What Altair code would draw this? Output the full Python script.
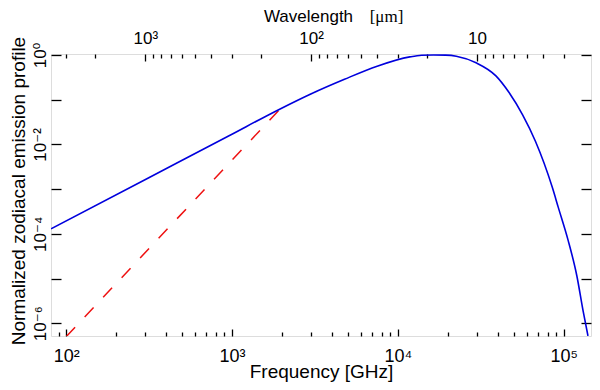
import altair as alt
import pandas as pd

# ---- data ----
freq_blue = [81, 317, 953, 1950, 2985, 4765, 7500, 11800, 13900, 16400, 19400,
             22500, 29600, 39000, 46700, 56500, 67600, 85400, 92700, 106000,
             120000, 131000, 140000]
prof_blue = [1.29e-4, 1.82e-3, 0.0154, 0.062, 0.134, 0.286, 0.56, 0.904,
             0.985, 1.0, 0.99, 0.936, 0.667, 0.34, 0.146, 0.0456, 0.0116,
             1.08e-3, 3.9e-4, 7.4e-5, 1.14e-5, 1.84e-6, 5.2e-7]

freq_red = [1950, 100]
prof_red = [0.062, 5.0e-7]

x_major = [100, 1000, 10000, 100000]
x_major_labels = ["10²", "10³", "10⁴", "10⁵"]
x_minor = [m * 10 ** k for k in range(1, 5) for m in range(2, 10)]

wl_major = [1000, 100, 10]
wl_major_labels = ["10³", "10²", "10"]
wl_minor = [m * 10 ** k for k in range(0, 4) for m in range(2, 10)]

y_major = [1e-6, 1e-5, 1e-4, 1e-3, 1e-2, 1e-1, 1.0]
y_major_labels = ["10⁻⁶", "", "10⁻⁴", "", "10⁻²", "", "10⁰"]

C_LIGHT = 299792.458  # GHz * micron

x_domain = [81, 146000]
y_domain = [5.18e-7, 1.05]

FONT = "Liberation Sans, DejaVu Sans"


def label_expr(values, labels):
    expr = "''"
    for v, lab in reversed(list(zip(values, labels))):
        expr = f"abs(datum.value/{v} - 1) < 0.001 ? '{lab}' : ({expr})"
    return expr


df_blue = pd.DataFrame({"freq": freq_blue, "prof": prof_blue})
df_red = pd.DataFrame({"freq": freq_red, "prof": prof_red})

xs = alt.Scale(type="log", domain=x_domain, nice=False)
ys = alt.Scale(type="log", domain=y_domain, nice=False)

tick_common = dict(domain=False, grid=False, tickColor="black", tickWidth=1.3)

ax_bottom = alt.Axis(
    orient="bottom", values=x_major, labelExpr=label_expr(x_major, x_major_labels),
    offset=-7, tickSize=7, labelPadding=25, labelBaseline="alphabetic",
    labelFont=FONT, labelFontSize=18, labelColor="black", labelOverlap=False,
    labelFlush=False, title="Frequency [GHz]", titleFont=FONT, titleFontSize=19,
    titleFontWeight="normal", titleColor="black", titleX=270, titleY=48.5,
    titleAlign="center", titleBaseline="alphabetic", **tick_common)

ax_bottom_minor = alt.Axis(
    orient="bottom", values=x_minor, offset=-4, tickSize=4, labels=False,
    title=None, **tick_common)

top_vals = [C_LIGHT / w for w in wl_major]
ax_top = alt.Axis(
    orient="top", values=top_vals, labelExpr=label_expr(top_vals, wl_major_labels),
    offset=-7, tickSize=7, labelPadding=11, labelBaseline="alphabetic",
    labelFont=FONT, labelFontSize=17, labelColor="black", labelOverlap=False,
    labelFlush=False, title="Wavelength", titleFont=FONT, titleFontSize=17,
    titleFontWeight="normal", titleColor="black", titleX=257, titleY=-40,
    titleAlign="center", titleBaseline="alphabetic", **tick_common)

ax_top_minor = alt.Axis(
    orient="top", values=[C_LIGHT / w for w in wl_minor], offset=-4, tickSize=4,
    labels=False, title="[μm]", titleFont="Liberation Serif", titleFontSize=17,
    titleFontWeight="normal", titleColor="black", titleX=335, titleY=-37,
    titleAlign="center", titleBaseline="alphabetic", **tick_common)

ax_left = alt.Axis(
    orient="left", values=y_major, labelExpr=label_expr(y_major, y_major_labels),
    offset=-10, tickSize=10, labelPadding=6, labelAngle=270, labelAlign="center",
    labelBaseline="alphabetic", labelFont=FONT, labelFontSize=17,
    labelColor="black", labelOverlap=False, labelFlush=False,
    title="Normalized zodiacal emission profile", titleFont=FONT,
    titleFontSize=19, titleFontWeight="normal", titleColor="black",
    titleAngle=270, titleX=-36.5, titleY=136.5, titleAlign="center",
    titleBaseline="alphabetic", **tick_common)

ax_right = alt.Axis(
    orient="right", values=y_major, offset=-10, tickSize=10, labels=False,
    title=None, **tick_common)

blue = alt.Chart(df_blue).mark_line(color="#0000dd", strokeWidth=1.6, clip=True,
                                    interpolate="monotone").encode(
    x=alt.X("freq:Q", scale=xs, axis=ax_bottom),
    y=alt.Y("prof:Q", scale=ys, axis=ax_left),
)

red = alt.Chart(df_red).mark_line(color="#ee1111", strokeWidth=1.5,
                                  strokeDash=[13, 14], clip=True).encode(
    x=alt.X("freq:Q", scale=xs, axis=ax_top),
    y=alt.Y("prof:Q", scale=ys, axis=ax_right),
)

ghost1 = alt.Chart(df_blue).mark_line(strokeOpacity=0, clip=True).encode(
    x=alt.X("freq:Q", scale=xs, axis=ax_bottom_minor),
    y=alt.Y("prof:Q", scale=ys, axis=None),
)

ghost2 = alt.Chart(df_blue).mark_line(strokeOpacity=0, clip=True).encode(
    x=alt.X("freq:Q", scale=xs, axis=ax_top_minor),
    y=alt.Y("prof:Q", scale=ys, axis=None),
)

chart = (
    alt.layer(ghost1, ghost2, red, blue)
    .resolve_axis(x="independent", y="independent")
    .properties(
        width=540, height=282,
        padding={"left": 43, "top": 46, "right": 1, "bottom": 46},
        autosize=alt.AutoSizeParams(type="none"),
    )
    .configure_view(stroke="black", strokeWidth=1.6)
    .configure(background="white")
)

chart.save("out.html", embed_options={"renderer": "svg", "actions": False})
